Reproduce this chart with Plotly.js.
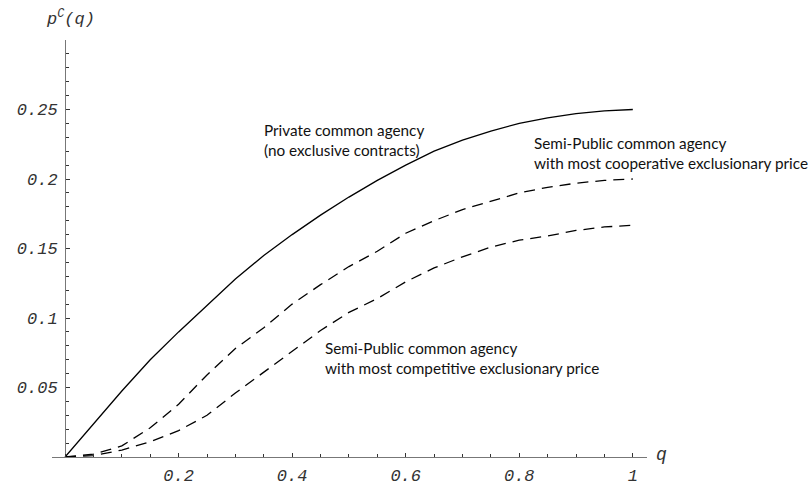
<!DOCTYPE html>
<html>
<head>
<meta charset="utf-8">
<script src="https://cdn.plot.ly/plotly-3.0.1.min.js"></script>
<style>html,body{margin:0;padding:0;background:#fff;}#chart{width:808px;height:486px;}</style>
</head>
<body>
<div id="chart"></div>
<script>
var q = [0, 0.05, 0.1, 0.15, 0.2, 0.25, 0.3, 0.35, 0.4, 0.45, 0.5, 0.55, 0.6, 0.65, 0.7, 0.75, 0.8, 0.85, 0.9, 0.95, 1.0];
var privateAgency = [0, 0.024, 0.0475, 0.070, 0.090, 0.109, 0.128, 0.145, 0.160, 0.174, 0.187, 0.199, 0.210, 0.220, 0.228, 0.2345, 0.240, 0.244, 0.247, 0.249, 0.250];
var semiCooperative = [0, 0.002, 0.008, 0.021, 0.038, 0.059, 0.078, 0.093, 0.110, 0.124, 0.137, 0.148, 0.161, 0.170, 0.178, 0.184, 0.190, 0.194, 0.197, 0.199, 0.200];
var semiCompetitive = [0, 0.001, 0.005, 0.011, 0.019, 0.030, 0.046, 0.061, 0.076, 0.091, 0.104, 0.114, 0.126, 0.136, 0.144, 0.151, 0.156, 0.159, 0.163, 0.1655, 0.1667];
var xTickVals = [0.2, 0.4, 0.6, 0.8, 1];
var xTickText = ['0.2', '0.4', '0.6', '0.8', '1'];
var yTickVals = [0.05, 0.1, 0.15, 0.2, 0.25];
var yTickText = ['0.05', '0.1', '0.15', '0.2', '0.25'];
var labelPrivate = 'Private common agency<br>(no exclusive contracts)';
var labelCoop = 'Semi-Public common agency<br>with most cooperative exclusionary price';
var labelComp = 'Semi-Public common agency<br>with most competitive exclusionary price';

var monoFamily = 'Liberation Mono, Courier New, monospace';
var tickFont = {family: monoFamily, size: 17, color: '#333', style: 'italic'};
var noteFont = {family: 'Lato, Open Sans, sans-serif', size: 15.3, color: '#111'};

var traces = [
  {x: q, y: privateAgency, mode: 'lines', line: {color: '#000', width: 1.3}, hoverinfo: 'skip'},
  {x: q, y: semiCooperative, mode: 'lines', line: {color: '#000', width: 1.3, dash: '11px,7px'}, hoverinfo: 'skip'},
  {x: q, y: semiCompetitive, mode: 'lines', line: {color: '#000', width: 1.3, dash: '11px,7px'}, hoverinfo: 'skip'}
];

var layout = {
  width: 808, height: 486,
  margin: {l: 52, r: 161, t: 40, b: 29},
  paper_bgcolor: '#fff', plot_bgcolor: '#fff',
  showlegend: false,
  xaxis: {
    range: [-0.023, 1.025], showgrid: false, zeroline: false,
    showline: true, linecolor: '#777', linewidth: 1.2,
    ticks: 'inside', ticklen: 4, tickcolor: '#333', tickwidth: 1,
    tickvals: xTickVals, ticktext: xTickText, tickfont: tickFont,
    minor: {dtick: 0.05, tick0: 0, ticks: 'inside', ticklen: 3, tickcolor: '#333', tickwidth: 1},
    ticklabelstandoff: 2
  },
  yaxis: {
    range: [0, 0.3], showgrid: false, zeroline: false,
    anchor: 'free', position: 0.023 / 1.048,
    showline: true, linecolor: '#777', linewidth: 1.2,
    ticks: 'inside', ticklen: 4, tickcolor: '#333', tickwidth: 1,
    tickvals: yTickVals, ticktext: yTickText, tickfont: tickFont,
    minor: {dtick: 0.01, tick0: 0, ticks: 'inside', ticklen: 3, tickcolor: '#333', tickwidth: 1},
    ticklabelstandoff: 4
  },
  annotations: [
    {x: 0.0303, y: 1.0528, xref: 'paper', yref: 'paper', xanchor: 'center', yanchor: 'middle', showarrow: false,
     text: 'p<sup>C</sup>(q)', font: {family: monoFamily, size: 17, color: '#333', style: 'italic'}},
    {x: 1.0252, y: 0.0048, xref: 'paper', yref: 'paper', xanchor: 'center', yanchor: 'middle', showarrow: false,
     text: 'q', font: {family: monoFamily, size: 18, color: '#333', style: 'italic'}},
    {x: 0.347, y: 0.228, xref: 'x', yref: 'y', xanchor: 'left', yanchor: 'middle', align: 'left', showarrow: false, text: labelPrivate, font: noteFont},
    {x: 0.822, y: 0.2188, xref: 'x', yref: 'y', xanchor: 'left', yanchor: 'middle', align: 'left', showarrow: false, text: labelCoop, font: noteFont},
    {x: 0.454, y: 0.0711, xref: 'x', yref: 'y', xanchor: 'left', yanchor: 'middle', align: 'left', showarrow: false, text: labelComp, font: noteFont}
  ]
};

Plotly.newPlot('chart', traces, layout, {staticPlot: true, displayModeBar: false});
</script>
</body>
</html>
